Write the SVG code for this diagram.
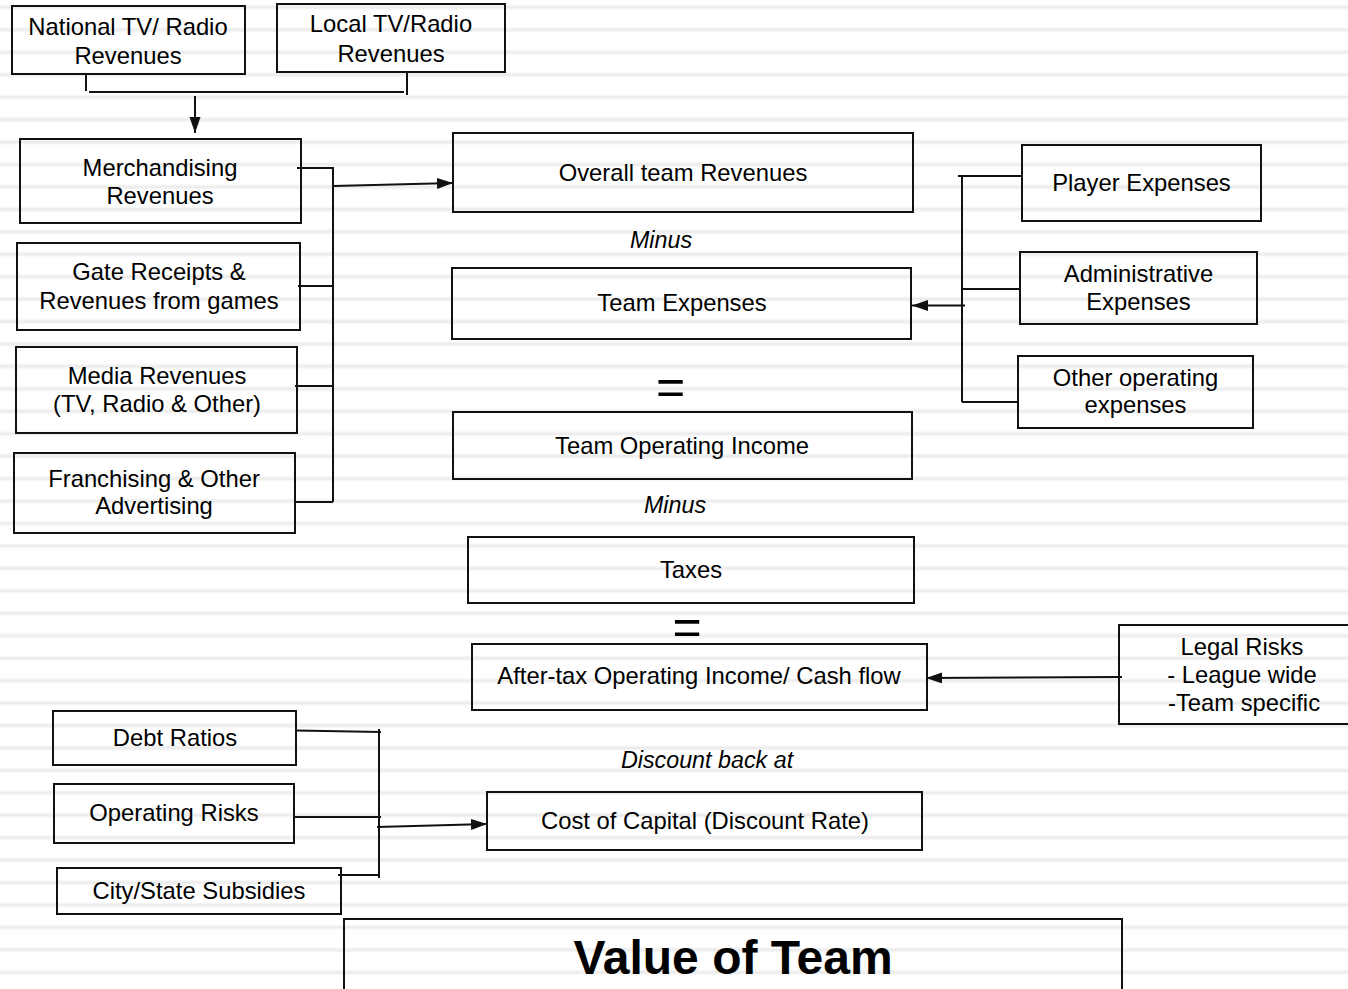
<svg xmlns="http://www.w3.org/2000/svg" width="1348" height="989" viewBox="0 0 1348 989">
  <style>
    .box { fill: none; stroke: #111; stroke-width: 2; }
    .lbl { font-family: "Liberation Sans", Arial, Helvetica, sans-serif; font-size: 23.8px; text-anchor: middle; fill: #000; }
    .op { font-family: "Liberation Sans", Arial, Helvetica, sans-serif; font-size: 23.3px; font-style: italic; text-anchor: middle; fill: #000; }
    .eq { font-family: "Liberation Sans", Arial, Helvetica, sans-serif; font-size: 50px; text-anchor: middle; fill: #000; }
    .title { font-family: "Liberation Sans", Arial, Helvetica, sans-serif; font-size: 48px; font-weight: bold; text-anchor: middle; fill: #000; }
    .wire { fill: none; stroke: #111; stroke-width: 2; }
    .arrow { fill: none; stroke: #111; stroke-width: 2; marker-end: url(#head); }
  </style>
  <defs>
    <linearGradient id="band" x1="0" y1="0" x2="0" y2="1">
      <stop offset="0" stop-color="#ffffff"/>
      <stop offset="0.5" stop-color="#e9e9e9"/>
      <stop offset="1" stop-color="#ffffff"/>
    </linearGradient>
    <pattern id="lines" patternUnits="userSpaceOnUse" x="0" y="4.4" width="1348" height="22.44">
      <rect x="0" y="0" width="1348" height="6" fill="url(#band)"/>
    </pattern>
    <marker id="head" markerUnits="userSpaceOnUse" markerWidth="17" markerHeight="12" refX="16" refY="5.5" orient="auto">
      <path d="M0,0 L16,5.5 L0,11 z" fill="#111"/>
    </marker>
  </defs>

  <!-- ruled background -->
  <rect x="0" y="0" width="1348" height="989" fill="#ffffff"/>
  <rect x="0" y="0" width="1348" height="989" fill="url(#lines)"/>

  <!-- connectors -->
  <g id="connectors">
    <!-- broadcast revenues feed merchandising -->
    <line class="wire" x1="86" y1="75" x2="86" y2="91"/>
    <line class="wire" x1="89" y1="92" x2="404" y2="92"/>
    <line class="wire" x1="407" y1="73" x2="407" y2="95"/>
    <line class="arrow" x1="195" y1="96" x2="195" y2="133"/>

    <!-- revenue sources into overall revenues -->
    <line class="wire" x1="297" y1="168" x2="334" y2="168"/>
    <line class="wire" x1="333" y1="167" x2="333" y2="502"/>
    <line class="wire" x1="298" y1="286" x2="333" y2="286"/>
    <line class="wire" x1="295" y1="386" x2="333" y2="386"/>
    <line class="wire" x1="294" y1="502" x2="333" y2="502"/>
    <line class="arrow" x1="334" y1="186" x2="453" y2="183"/>

    <!-- expense items into team expenses -->
    <line class="wire" x1="958" y1="176" x2="1022" y2="176"/>
    <line class="wire" x1="962" y1="176" x2="962" y2="402"/>
    <line class="wire" x1="962" y1="289" x2="1020" y2="289"/>
    <line class="wire" x1="962" y1="402" x2="1018" y2="402"/>
    <line class="arrow" x1="965" y1="305.5" x2="912" y2="305.5"/>

    <!-- legal risks into cash flow -->
    <line class="arrow" x1="1122" y1="677" x2="926" y2="678"/>

    <!-- risk factors into cost of capital -->
    <line class="wire" x1="296" y1="730.5" x2="381" y2="732"/>
    <line class="wire" x1="379" y1="729" x2="379" y2="878"/>
    <line class="wire" x1="295" y1="817" x2="381" y2="817"/>
    <line class="wire" x1="338" y1="875" x2="379" y2="875"/>
    <line class="arrow" x1="377" y1="827" x2="487" y2="824"/>
  </g>

  <g id="national-tv">
    <rect class="box" x="12" y="6" width="233" height="68"/>
    <text class="lbl" x="128" y="35">National TV/ Radio</text>
    <text class="lbl" x="128" y="63.5">Revenues</text>
  </g>
  <g id="local-tv">
    <rect class="box" x="277" y="4" width="228" height="68"/>
    <text class="lbl" x="391" y="32">Local TV/Radio</text>
    <text class="lbl" x="391" y="61.5">Revenues</text>
  </g>
  <g id="merchandising">
    <rect class="box" x="20" y="139" width="281" height="84"/>
    <text class="lbl" x="160" y="176">Merchandising</text>
    <text class="lbl" x="160" y="203.5">Revenues</text>
  </g>
  <g id="gate-receipts">
    <rect class="box" x="17" y="243" width="283" height="87"/>
    <text class="lbl" x="159" y="280">Gate Receipts &amp;</text>
    <text class="lbl" x="159" y="308.5">Revenues from games</text>
  </g>
  <g id="media">
    <rect class="box" x="16" y="347" width="281" height="86"/>
    <text class="lbl" x="157" y="383.5">Media Revenues</text>
    <text class="lbl" x="157" y="411.5">(TV, Radio &amp; Other)</text>
  </g>
  <g id="franchising">
    <rect class="box" x="14" y="453" width="281" height="80"/>
    <text class="lbl" x="154" y="486.5">Franchising &amp; Other</text>
    <text class="lbl" x="154" y="514">Advertising</text>
  </g>

  <g id="overall-revenues">
    <rect class="box" x="453" y="133" width="460" height="79"/>
    <text class="lbl" x="683" y="181">Overall team Revenues</text>
  </g>
  <text class="op" x="661" y="248">Minus</text>
  <g id="team-expenses">
    <rect class="box" x="452" y="268" width="459" height="71"/>
    <text class="lbl" x="682" y="311">Team Expenses</text>
  </g>
  <text class="eq" x="670.5" y="403.5">=</text>
  <g id="operating-income">
    <rect class="box" x="453" y="412" width="459" height="67"/>
    <text class="lbl" x="682" y="454">Team Operating Income</text>
  </g>
  <text class="op" x="675" y="512.5">Minus</text>
  <g id="taxes">
    <rect class="box" x="468" y="537" width="446" height="66"/>
    <text class="lbl" x="691" y="577.5">Taxes</text>
  </g>
  <text class="eq" x="687" y="643.5">=</text>
  <g id="after-tax">
    <rect class="box" x="472" y="644" width="455" height="66"/>
    <text class="lbl" x="699" y="684">After-tax Operating Income/ Cash flow</text>
  </g>
  <text class="op" x="707" y="767.5">Discount back at</text>
  <g id="cost-of-capital">
    <rect class="box" x="487" y="792" width="435" height="58"/>
    <text class="lbl" x="705" y="828.5">Cost of Capital (Discount Rate)</text>
  </g>

  <g id="player-expenses">
    <rect class="box" x="1022" y="145" width="239" height="76"/>
    <text class="lbl" x="1141.5" y="191">Player Expenses</text>
  </g>
  <g id="administrative-expenses">
    <rect class="box" x="1020" y="252" width="237" height="72"/>
    <text class="lbl" x="1138.5" y="282">Administrative</text>
    <text class="lbl" x="1138.5" y="309.5">Expenses</text>
  </g>
  <g id="other-expenses">
    <rect class="box" x="1018" y="356" width="235" height="72"/>
    <text class="lbl" x="1135.5" y="386">Other operating</text>
    <text class="lbl" x="1135.5" y="413">expenses</text>
  </g>
  <g id="legal-risks">
    <rect class="box" x="1119" y="625" width="236" height="99"/>
    <text class="lbl" x="1242" y="654.5">Legal Risks</text>
    <text class="lbl" x="1242" y="683">- League wide</text>
    <text class="lbl" x="1244" y="710.5">-Team specific</text>
  </g>

  <g id="debt-ratios">
    <rect class="box" x="53" y="711" width="243" height="54"/>
    <text class="lbl" x="175" y="746">Debt Ratios</text>
  </g>
  <g id="operating-risks">
    <rect class="box" x="54" y="784" width="240" height="59"/>
    <text class="lbl" x="174" y="821">Operating Risks</text>
  </g>
  <g id="subsidies">
    <rect class="box" x="57" y="868" width="284" height="46"/>
    <text class="lbl" x="199" y="898.5">City/State Subsidies</text>
  </g>

  <g id="value-of-team">
    <rect class="box" x="344" y="919" width="778" height="80"/>
    <text class="title" x="733" y="974">Value of Team</text>
  </g>
</svg>
